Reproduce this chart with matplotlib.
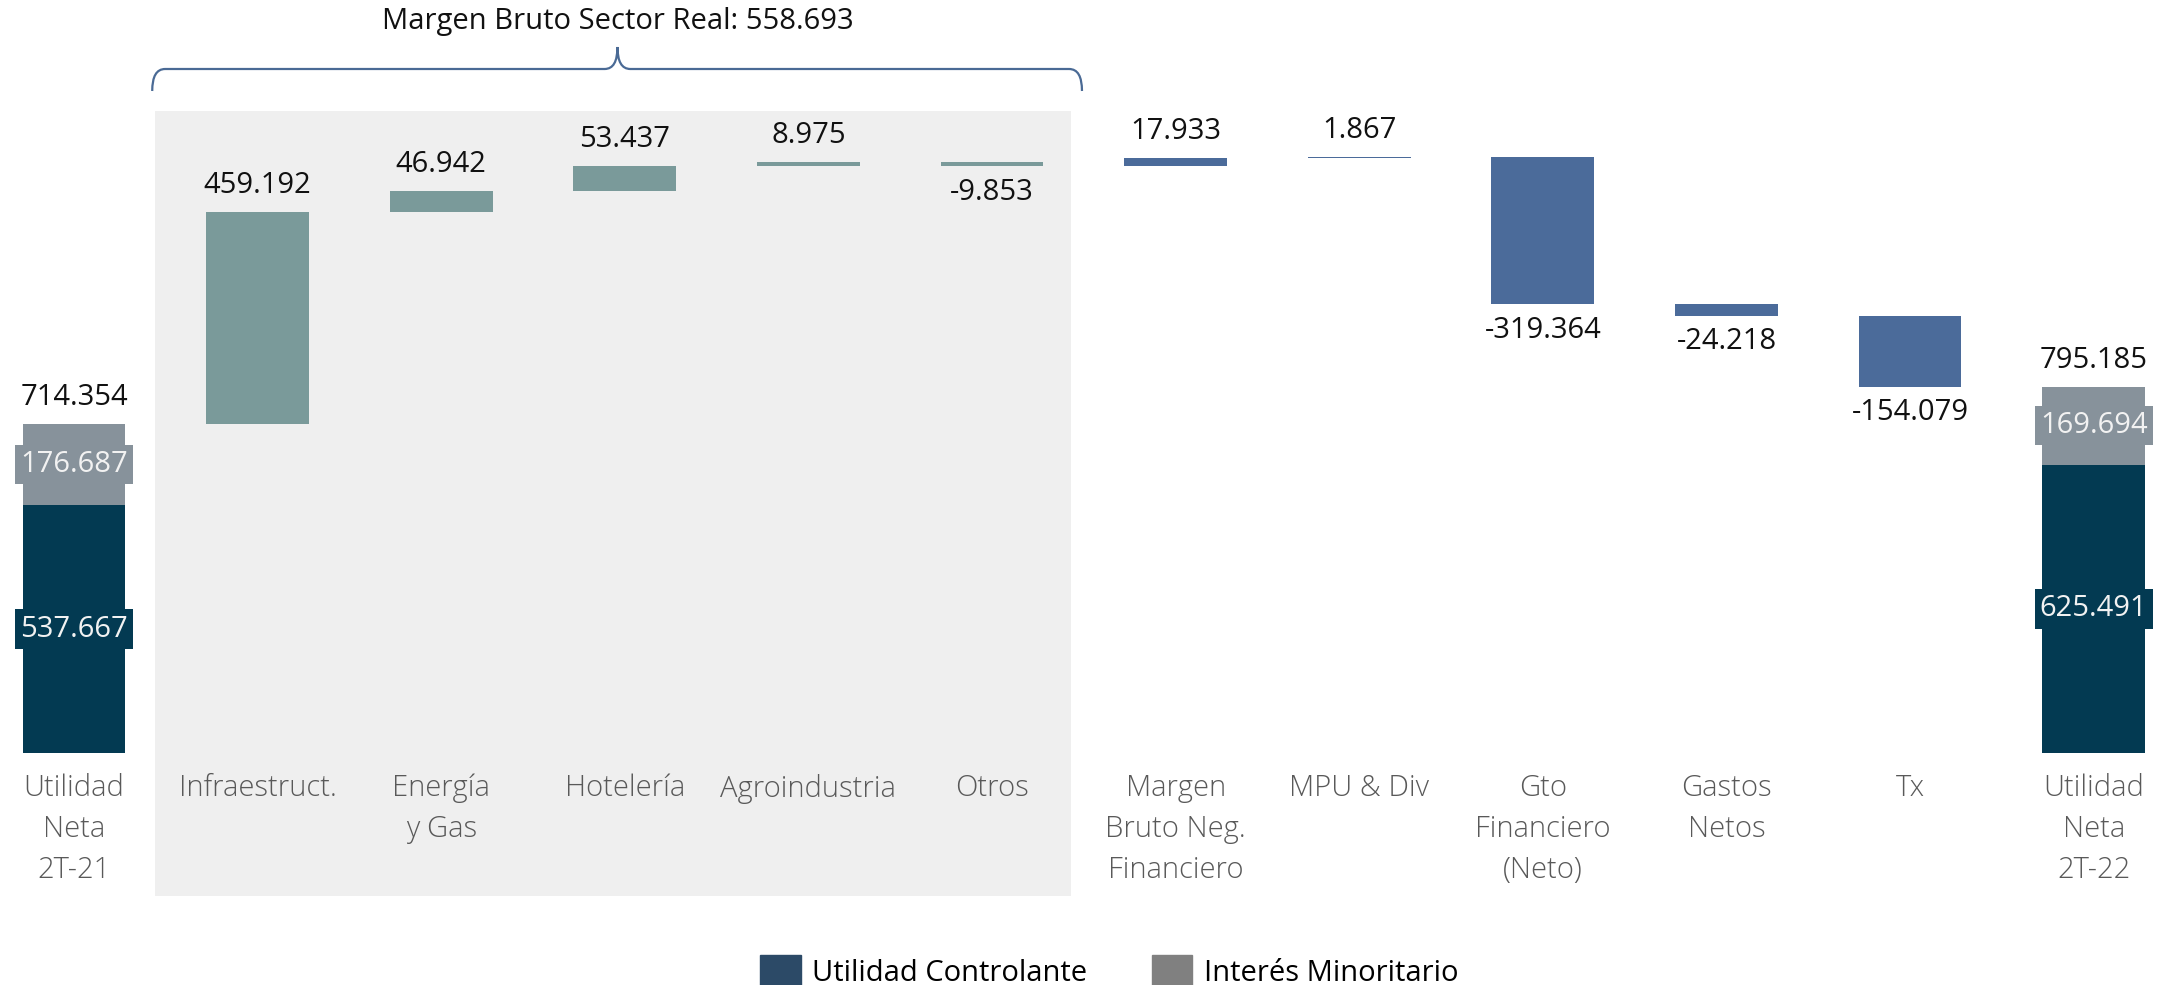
import matplotlib
matplotlib.use("Agg")
import matplotlib.pyplot as plt
from matplotlib.path import Path
from matplotlib.patches import PathPatch, Rectangle
from matplotlib.transforms import blended_transform_factory

plt.rcParams['font.family'] = ['Open Sans', 'DejaVu Sans']

# ---- data ----
categories = ["Utilidad\nNeta\n2T-21", "Infraestruct.", "Energía\ny Gas", "Hotelería",
              "Agroindustria", "Otros", "Margen\nBruto Neg.\nFinanciero", "MPU & Div",
              "Gto\nFinanciero\n(Neto)", "Gastos\nNetos", "Tx", "Utilidad\nNeta\n2T-22"]
start_controlante = 537.667
start_minoritario = 176.687
end_controlante = 625.491
end_minoritario = 169.694
sector_deltas = [459.192, 46.942, 53.437, 8.975, -9.853]
financial_deltas = [17.933, 1.867, -319.364, -24.218, -154.079]

c_navy = '#033a52'
c_gray = '#87929b'
c_teal = '#7a9a9a'
c_blue = '#4b6b9a'
c_text = '#595959'

fig = plt.figure(figsize=(21.75, 9.85), dpi=100)
ax = fig.add_axes([0, 0.2355, 1, 0.6518])
ax.set_xlim(-0.403, 11.443)
ax.set_ylim(0, 1393)
ax.patch.set_visible(False)
for s in ax.spines.values():
    s.set_visible(False)
ax.set_yticks([])

w = 0.56
lbl_kw = dict(ha='center', va='center', fontsize=21, color='#111111')

def total_bar(x, ctrl, mino):
    ax.bar(x, ctrl, width=w, color=c_navy, zorder=2)
    ax.bar(x, mino, bottom=ctrl, width=w, color=c_gray, zorder=2)
    ax.text(x, ctrl / 2, f"{ctrl:.3f}", ha='center', va='center', fontsize=21, color='#f2f2f2',
            zorder=4, bbox=dict(boxstyle='square,pad=0.18', fc=c_navy, ec='none'))
    ax.text(x, ctrl + mino / 2, f"{mino:.3f}", ha='center', va='center', fontsize=21, color='#f2f2f2',
            zorder=4, bbox=dict(boxstyle='square,pad=0.18', fc=c_gray, ec='none'))
    ax.annotate(f"{ctrl + mino:.3f}", (x, ctrl + mino), xytext=(0, 19),
                textcoords='offset points', **lbl_kw)

total_bar(0, start_controlante, start_minoritario)

level = start_controlante + start_minoritario
deltas = sector_deltas + financial_deltas
colors = [c_teal] * len(sector_deltas) + [c_blue] * len(financial_deltas)
for i, (d, col) in enumerate(zip(deltas, colors)):
    x = i + 1
    ax.bar(x, d, bottom=level, width=w, color=col, zorder=2)
    if d >= 0:
        ax.annotate(f"{d:.3f}", (x, level + d), xytext=(0, 19), textcoords='offset points', **lbl_kw)
    else:
        ax.annotate(f"{d:.3f}", (x, level + d), xytext=(0, -19), textcoords='offset points', **lbl_kw)
    level += d

total_bar(11, end_controlante, end_minoritario)

ax.set_xticks(range(len(categories)))
ax.set_xticklabels(categories, fontsize=21, color=c_text, linespacing=1.5, fontweight='light')
ax.tick_params(axis='x', length=0, pad=15)

# shaded region for sector real
tr = blended_transform_factory(ax.transData, fig.transFigure)
ax.add_patch(Rectangle((0.44, 0.0904), 5.43 - 0.44, 0.887 - 0.0904, transform=tr,
                       facecolor='#efefef', edgecolor='none', zorder=0, clip_on=False))

# brace
H = 985.0
yl = 1 - 69 / H
ye = 1 - 91 / H
yt = 1 - 47 / H
xl, xr, xm = 0.426, 5.49, 2.96
dx = 0.07
verts = [(xl, ye), (xl, yl), (xl + dx, yl), (xm - dx, yl), (xm, yl), (xm, yt),
         (xm, yl), (xm + dx, yl), (xr - dx, yl), (xr, yl), (xr, ye)]
codes = [Path.MOVETO, Path.CURVE3, Path.CURVE3, Path.LINETO, Path.CURVE3, Path.CURVE3,
         Path.CURVE3, Path.CURVE3, Path.LINETO, Path.CURVE3, Path.CURVE3]
ax.add_patch(PathPatch(Path(verts, codes), transform=tr, facecolor='none',
                       edgecolor='#4a6a95', lw=1.6, clip_on=False))
ax.text(xm, 1 - 22 / H, f"Margen Bruto Sector Real: {sum(sector_deltas):.3f}",
        transform=tr, ha='center', va='center', fontsize=21, color='#111111')

# legend
h1 = Rectangle((0, 0), 1, 1, color='#2c4a67')
h2 = Rectangle((0, 0), 1, 1, color='#808080')
fig.legend([h1, h2], ["Utilidad Controlante", "Interés Minoritario"], loc='lower center',
           bbox_to_anchor=(0.51, -0.03), ncol=2, frameon=False,
           prop={'size': 21},
           handlelength=1.4, handleheight=1.4, handletextpad=0.4, columnspacing=2.2)

fig.savefig('out.png', dpi=100)
